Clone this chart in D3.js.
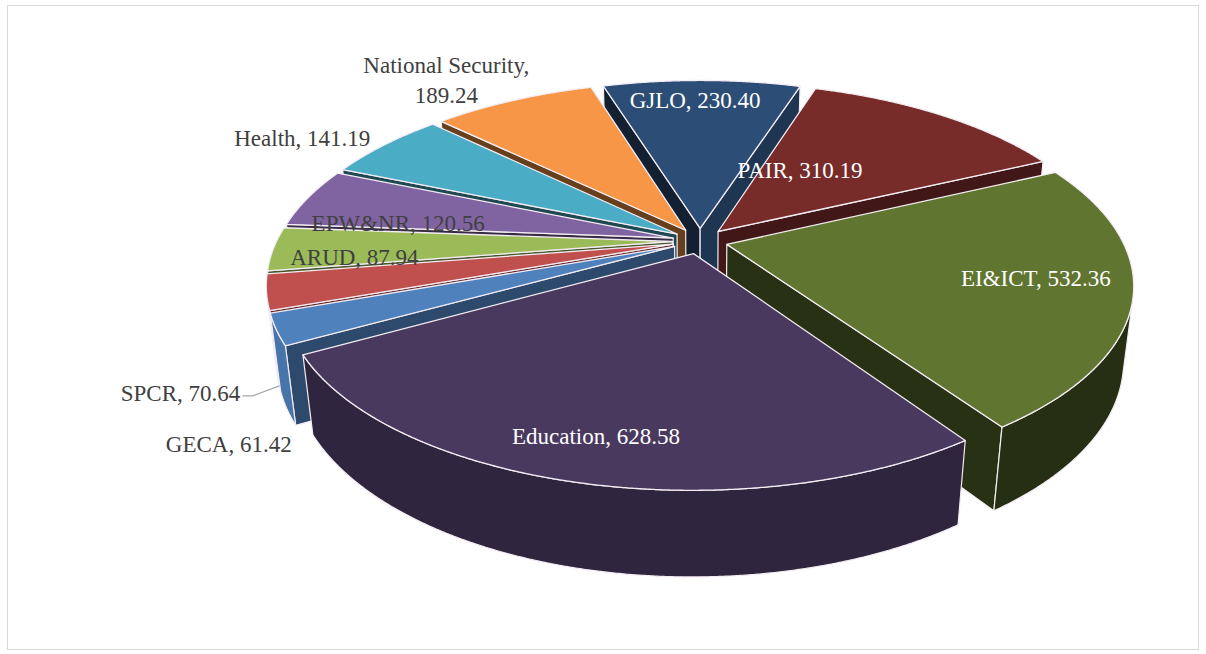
<!DOCTYPE html>
<html>
<head>
<meta charset="utf-8">
<script src="https://cdn.jsdelivr.net/npm/d3@7"></script>
<style>
  body { margin: 0; background: #fff; }
  svg { display: block; }
  text { font-family: "Liberation Serif", "DejaVu Serif", serif; }
</style>
</head>
<body>
<div id="chart"></div>
<script>
// data, in the order the slices are laid out clockwise
const categories = ["GECA", "SPCR", "ARUD", "EPW&NR", "Health", "National Security", "GJLO", "PAIR", "EI&ICT", "Education"];
const values = [61.42, 70.64, 87.94, 120.56, 141.19, 189.24, 230.40, 310.19, 532.36, 628.58];
const colors = ["#4f81bd", "#c0504d", "#9bbb59", "#8064a2", "#4bacc6", "#f79646", "#2c4d75", "#772c2a", "#5f7530", "#4a395f"];

const width = 1206, height = 654;
const rad = d => d * Math.PI / 180;

// 3d view settings
const firstSliceAngle = 241;
const explode = 0.07;
const thick = 0.215;
const cam = { cx: 700, cy: 241, f: 1725, D: 4.36, tilt: rad(27.5) };
const sT = Math.sin(cam.tilt), cT = Math.cos(cam.tilt);

function project(u, v, y) {
  const yc = v * sT + y * cT;
  const zc = cam.D + v * cT - y * sT;
  return [cam.cx + cam.f * u / zc, cam.cy - cam.f * yc / zc];
}

const svg = d3.select("#chart").append("svg")
  .attr("width", width)
  .attr("height", height);

svg.append("rect")
  .attr("x", 7.5).attr("y", 5.5)
  .attr("width", 1191).attr("height", 644)
  .attr("fill", "none")
  .attr("stroke", "#d9d9d9");

const pie = d3.pie().sort(null).value(d => d)
  .startAngle(rad(firstSliceAngle))
  .endAngle(rad(firstSliceAngle + 360));

const arcs = pie(values).map((p, i) => {
  const m = (p.startAngle + p.endAngle) / 2;
  return {
    i, name: categories[i], value: values[i], color: colors[i],
    a0: p.startAngle, a1: p.endAngle, m,
    ou: explode * Math.sin(m), ov: explode * Math.cos(m)
  };
});

const line = d3.line().curve(d3.curveLinearClosed);
const camV = -cam.D * cT;

function shade(c, k) {
  const col = d3.rgb(c);
  return d3.rgb(col.r * k, col.g * k, col.b * k).formatHex();
}

function drawSlice(g, s) {
  const H = thick;
  const pt = (a, r, y) => project(s.ou + r * Math.sin(a), s.ov + r * Math.cos(a), y);
  const steps = Math.max(2, Math.ceil((s.a1 - s.a0) / rad(0.25)));
  const angles = d3.range(steps + 1).map(k => s.a0 + (s.a1 - s.a0) * k / steps);

  // radial faces
  [[s.a0, s.a0 - Math.PI / 2], [s.a1, s.a1 + Math.PI / 2]].forEach(([a, na]) => {
    const nu = Math.sin(na), nv = Math.cos(na);
    if ((0 - s.ou) * nu + (camV - s.ov) * nv <= 0) return;
    const poly = [pt(a, 0, 0), pt(a, 1, 0), pt(a, 1, -H), pt(a, 0, -H)];
    g.append("path").attr("d", line(poly))
      .attr("fill", shade(s.color, 0.42 + 0.3 * Math.max(0, nu)))
      .attr("stroke", "#f3ecf3").attr("stroke-width", 1.2)
      .attr("stroke-linejoin", "round");
  });

  // outer wall, only the part turned to the camera
  const vis = angles.filter(a => {
    const nu = Math.sin(a), nv = Math.cos(a);
    return (0 - s.ou - nu) * nu + (camV - s.ov - nv) * nv > 0;
  });
  if (vis.length > 1) {
    const top = vis.map(a => pt(a, 1, 0));
    const bot = vis.map(a => pt(a, 1, -H)).reverse();
    const mid = (vis[0] + vis[vis.length - 1]) / 2;
    const d = Math.max(0, Math.sin(mid) * -0.958 + Math.cos(mid) * -0.287);
    g.append("path").attr("d", line(top.concat(bot)))
      .attr("fill", shade(s.color, 0.4 + 0.5 * d))
      .attr("stroke", "#f3ecf3").attr("stroke-width", 1.2)
      .attr("stroke-linejoin", "round");
  }

  // top face
  const topPoly = [pt(0, 0, 0)].concat(angles.map(a => pt(a, 1, 0)));
  g.append("path").attr("d", line(topPoly))
    .attr("fill", s.color)
    .attr("stroke", "#f3ecf3").attr("stroke-width", 1.3)
    .attr("stroke-linejoin", "round");
}

const order = arcs.slice().sort((a, b) =>
  (b.ov + 0.5 * Math.cos(b.m)) - (a.ov + 0.5 * Math.cos(a.m)));

const gPie = svg.append("g");
order.forEach(s => drawSlice(gPie.append("g"), s));

// labels: angle (deg), radius, plane, small nudges in px
const labelLayout = {
  "GECA": { a: 240.4, r: 1.16, y: -thick, fill: "#404040" },
  "SPCR": { a: 251, r: 1.0, y: -thick, fill: "#404040", leader: true },
  "ARUD": { a: 264, r: 0.8, y: 0, dx: 3, dy: 3, fill: "#404040" },
  "EPW&NR": { a: 278, r: 0.76, y: 0, dx: 15, dy: 6, fill: "#404040" },
  "Health": { a: 300, r: 1.25, y: 0, dy: 7, fill: "#404040" },
  "National Security": { a: 324, r: 1.27, y: 0, fill: "#404040", split: true },
  "GJLO": { a: -1, r: 0.86, y: 0, dy: 5, fill: "#ffffff" },
  "PAIR": { a: 30, r: 0.46, y: 0, dy: 7, fill: "#ffffff" },
  "EI&ICT": { a: 105, r: 0.77, y: 0, dy: -2, fill: "#ffffff" },
  "Education": { a: 193, r: 0.84, y: 0, dx: -5, fill: "#ffffff" }
};

const gLab = svg.append("g").attr("font-size", 23);
arcs.forEach(s => {
  const L = labelLayout[s.name];
  const a = rad(L.a);
  let [x, y] = project(s.ou + L.r * Math.sin(a), s.ov + L.r * Math.cos(a), L.y);
  x += L.dx || 0;
  y += L.dy || 0;
  const txt = `${s.name}, ${s.value.toFixed(2)}`;
  if (L.leader) {
    gLab.append("path")
      .attr("d", d3.line()([[x, y], [x - 27, y + 10], [x - 37, y + 10]]))
      .attr("stroke", "#a6a6a6").attr("stroke-width", 1.2).attr("fill", "none");
    gLab.append("text").attr("x", x - 39).attr("y", y + 10)
      .attr("text-anchor", "end").attr("dominant-baseline", "middle")
      .attr("fill", L.fill).text(txt);
  } else if (L.split) {
    const t = gLab.append("text").attr("x", x).attr("y", y)
      .attr("text-anchor", "middle").attr("fill", L.fill);
    t.append("tspan").attr("x", x).attr("dy", "-0.25em").text(`${s.name},`);
    t.append("tspan").attr("x", x).attr("dy", "1.3em").text(s.value.toFixed(2));
  } else {
    gLab.append("text").attr("x", x).attr("y", y)
      .attr("text-anchor", "middle").attr("dominant-baseline", "middle")
      .attr("fill", L.fill).text(txt);
  }
});
</script>
</body>
</html>
